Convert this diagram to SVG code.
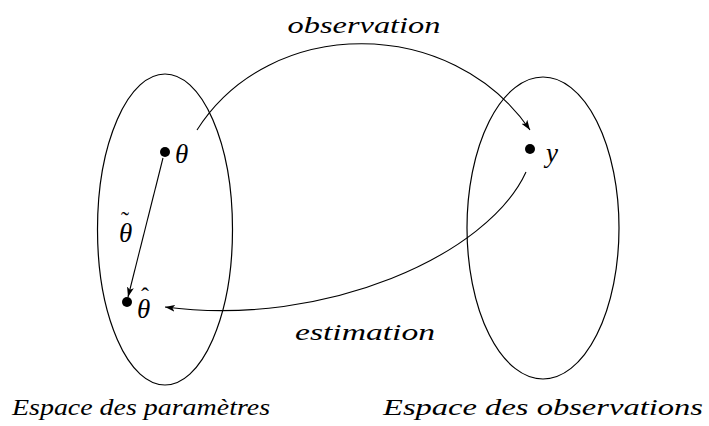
<svg xmlns="http://www.w3.org/2000/svg" width="709" height="426" viewBox="0 0 709 426">
<style>
.e{fill:none;stroke:#000;stroke-width:1.2}
.c{fill:none;stroke:#000;stroke-width:1.1}
.t{font-family:"Liberation Serif","DejaVu Serif",serif;font-style:italic;font-size:24px;fill:#000}
.m{font-family:"Liberation Serif","DejaVu Serif",serif;font-style:italic;font-size:27px;fill:#000}
.acc{font-style:normal;font-size:24px}
</style>
<defs>
<marker id="ah" viewBox="0 0 10 8" refX="10" refY="4" markerWidth="10" markerHeight="8" markerUnits="userSpaceOnUse" orient="auto">
<path d="M0,0.5 L10,4 L0,7.5 L2.5,4 Z" fill="#000"/>
</marker>
</defs>
<g id="space-params">
<ellipse class="e" cx="165" cy="229.5" rx="67.5" ry="155.5"/>
<text class="t" x="12" y="415" textLength="258" lengthAdjust="spacingAndGlyphs">Espace des paramètres</text>
</g>
<g id="space-obs">
<ellipse class="e" cx="543" cy="228" rx="76" ry="151"/>
<text class="t" x="383" y="415" textLength="320" lengthAdjust="spacingAndGlyphs">Espace des observations</text>
</g>
<g id="theta">
<circle cx="165" cy="152" r="5"/>
<text class="m" x="175" y="163">θ</text>
</g>
<g id="thetahat">
<circle cx="127" cy="302" r="5"/>
<text class="m" x="137" y="318">θ<tspan class="acc" x="141" y="304">ˆ</tspan></text>
</g>
<g id="y">
<circle cx="530" cy="149" r="5"/>
<text class="m" x="546" y="162">y</text>
</g>
<g id="connectors">
<path class="c" d="M163,158 L128,297" marker-end="url(#ah)"/>
<path class="c" d="M197,130 C270.5,14.5 452,15.6 530,130" marker-end="url(#ah)"/>
<path class="c" d="M526,172 C488,255 325,328 165,307" marker-end="url(#ah)"/>
<text class="t" x="364" y="33" text-anchor="middle" textLength="153" lengthAdjust="spacingAndGlyphs">observation</text>
<text class="t" x="365" y="340" text-anchor="middle" textLength="140" lengthAdjust="spacingAndGlyphs">estimation</text>
<text class="m" x="119" y="242">θ<tspan class="acc" x="121" y="228">˜</tspan></text>
</g>
</svg>
